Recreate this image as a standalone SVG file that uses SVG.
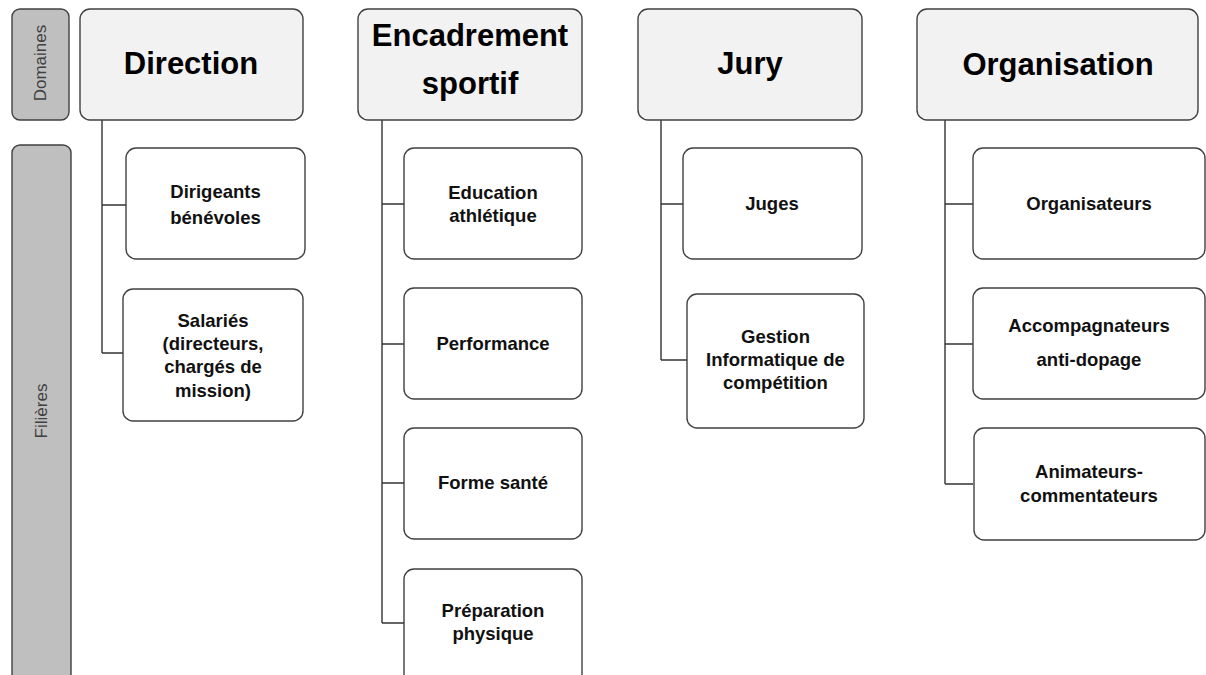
<svg xmlns="http://www.w3.org/2000/svg" width="1206" height="675" viewBox="0 0 1206 675">
<style>
.band{fill:#bfbfbf;stroke:#404040;stroke-width:1.4}
.dom{fill:#f2f2f2;stroke:#404040;stroke-width:1.4}
.fil{fill:#ffffff;stroke:#404040;stroke-width:1.4}
.lbl{font-family:"Liberation Sans",Arial,sans-serif;font-size:17px;fill:#404040;text-anchor:middle;dominant-baseline:central}
.h{font-family:"Liberation Sans",Arial,sans-serif;font-size:31px;font-weight:bold;fill:#000;text-anchor:middle}
.t{font-family:"Liberation Sans",Arial,sans-serif;font-size:18.5px;font-weight:bold;fill:#111;text-anchor:middle}
.c{fill:none;stroke:#333;stroke-width:1.4}
</style>
<rect width="1206" height="675" fill="#fff"/>
<g id="band-domaines"><rect class="band" x="12" y="9" width="57" height="111" rx="8"/><text class="lbl" x="40.5" y="63" transform="rotate(-90 40.5 63)">Domaines</text></g>
<g id="band-filieres"><rect class="band" x="12" y="145" width="59" height="540" rx="8"/><text class="lbl" x="41" y="411" transform="rotate(-90 41 411)">Filières</text></g>
<g id="connectors">
<path class="c" d="M102 120V353M102 205H126M102 353H123"/>
<path class="c" d="M382 120V623M382 204H404M382 344H404M382 483H404M382 623H404"/>
<path class="c" d="M661 120V360M661 204H683M661 360H687"/>
<path class="c" d="M945 120V484M945 204H973M945 344H973M945 484H973"/>
</g>
<g id="direction"><rect class="dom" x="80" y="9" width="223" height="111" rx="10"/><text class="h" x="191" y="74">Direction</text></g>
<g id="encadrement"><rect class="dom" x="358" y="9" width="224" height="111" rx="10"/><text class="h" x="470" y="46">Encadrement</text><text class="h" x="470" y="94">sportif</text></g>
<g id="jury"><rect class="dom" x="638" y="9" width="224" height="111" rx="10"/><text class="h" x="750" y="74">Jury</text></g>
<g id="organisation"><rect class="dom" x="917" y="9" width="281" height="111" rx="10"/><text class="h" x="1058" y="75">Organisation</text></g>
<g id="dirigeants"><rect class="fil" x="126" y="148" width="179" height="111" rx="10"/><text class="t" x="215.5" y="198">Dirigeants</text><text class="t" x="215.5" y="224">bénévoles</text></g>
<g id="salaries"><rect class="fil" x="123" y="289" width="180" height="132" rx="10"/><text class="t" x="213" y="327">Salariés</text><text class="t" x="213" y="350">(directeurs,</text><text class="t" x="213" y="373">chargés de</text><text class="t" x="213" y="397">mission)</text></g>
<g id="education"><rect class="fil" x="404" y="148" width="178" height="111" rx="10"/><text class="t" x="493" y="199">Education</text><text class="t" x="493" y="222">athlétique</text></g>
<g id="performance"><rect class="fil" x="404" y="288" width="178" height="111" rx="10"/><text class="t" x="493" y="350">Performance</text></g>
<g id="forme"><rect class="fil" x="404" y="428" width="178" height="111" rx="10"/><text class="t" x="493" y="489">Forme santé</text></g>
<g id="preparation"><rect class="fil" x="404" y="569" width="178" height="115" rx="10"/><text class="t" x="493" y="617">Préparation</text><text class="t" x="493" y="640">physique</text></g>
<g id="juges"><rect class="fil" x="683" y="148" width="179" height="111" rx="10"/><text class="t" x="772" y="210">Juges</text></g>
<g id="gestion"><rect class="fil" x="687" y="294" width="177" height="134" rx="10"/><text class="t" x="775.5" y="343">Gestion</text><text class="t" x="775.5" y="366">Informatique de</text><text class="t" x="775.5" y="389">compétition</text></g>
<g id="organisateurs"><rect class="fil" x="973" y="148" width="232" height="111" rx="10"/><text class="t" x="1089" y="210">Organisateurs</text></g>
<g id="accompagnateurs"><rect class="fil" x="973" y="288" width="232" height="111" rx="10"/><text class="t" x="1089" y="332">Accompagnateurs</text><text class="t" x="1089" y="366">anti-dopage</text></g>
<g id="animateurs"><rect class="fil" x="974" y="428" width="231" height="112" rx="10"/><text class="t" x="1089" y="478">Animateurs-</text><text class="t" x="1089" y="502">commentateurs</text></g>
</svg>
